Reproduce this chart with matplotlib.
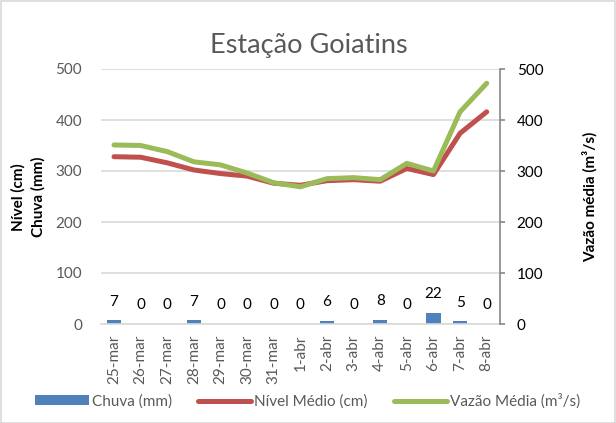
import numpy as np
import matplotlib
matplotlib.use("Agg")
import matplotlib.pyplot as plt
from matplotlib.patches import Rectangle

plt.rcParams['font.family'] = ['Lato', 'DejaVu Sans']

dias = ["25-mar", "26-mar", "27-mar", "28-mar", "29-mar", "30-mar", "31-mar",
        "1-abr", "2-abr", "3-abr", "4-abr", "5-abr", "6-abr", "7-abr", "8-abr"]
chuva = [7, 0, 0, 7, 0, 0, 0, 0, 6, 0, 8, 0, 22, 5, 0]
nivel = [328, 327, 316, 302, 295, 290, 276, 272, 281, 283, 280, 305, 293, 374, 416]
vazao = [351, 350, 338, 318, 312, 296, 277, 269, 285, 287, 283, 315, 300, 416, 472]

BLUE, RED, GREEN = "#4F81BD", "#C0504D", "#9BBB59"
GRAY_TXT = "#595959"
GRID = "#D9D9D9"

fig = plt.figure(figsize=(6.16, 4.23), dpi=100)
ax = fig.add_axes([100.7 / 616, 1 - 324 / 423, (500 - 100.7) / 616, (324 - 69) / 423])
ax2 = ax.twinx()

x = np.arange(len(dias))
bars = ax.bar(x, chuva, width=0.54, color=BLUE, label="Chuva (mm)", zorder=2)
ln1, = ax.plot(x, nivel, color=RED, lw=3.6, solid_capstyle="round",
               solid_joinstyle="round", label="Nível Médio (cm)", zorder=3)
ln2, = ax2.plot(x, vazao, color=GREEN, lw=3.6, solid_capstyle="round",
                solid_joinstyle="round", label="Vazão Média (m³/s)", zorder=3)

for xi, v in zip(x, chuva):
    ax.annotate(str(v), (xi, v), xytext=(0, 13.5), textcoords="offset points",
                ha="center", va="center", fontsize=11, color="black")

for a in (ax, ax2):
    a.set_ylim(0, 500)
    a.set_yticks(range(0, 501, 100))
    a.set_xlim(-0.5, len(dias) - 0.5)
    for s in a.spines.values():
        s.set_visible(False)

ax.yaxis.grid(True, color=GRID, lw=1.2)
ax.set_axisbelow(True)
ax.spines["bottom"].set_visible(True)
ax.spines["bottom"].set_color(GRID)
ax.spines["bottom"].set_linewidth(1.2)
ax.tick_params(axis="y", length=0, pad=13.5, labelsize=11, labelcolor=GRAY_TXT)
ax.set_xticks(x)
ax.set_xticklabels(dias, rotation=90)
ax.tick_params(axis="x", length=0, pad=8, labelsize=11, labelcolor=GRAY_TXT)

ax2.spines["right"].set_visible(True)
ax2.spines["right"].set_color("#868686")
ax2.spines["right"].set_linewidth(1.2)
ax2.tick_params(axis="y", direction="out", length=3.5, width=1.2, color="#868686",
                pad=8.5, labelsize=11, labelcolor="black")

fig.text(18 / 616, 1 - 197 / 423, "Nível (cm)", rotation=90, ha="center", va="center",
         fontsize=11, fontweight="bold")
fig.text(38 / 616, 1 - 197 / 423, "Chuva (mm)", rotation=90, ha="center", va="center",
         fontsize=11, fontweight="bold")
fig.text(590 / 616, 1 - 197 / 423, "Vazão média (m³/s)", rotation=90, ha="center",
         va="center", fontsize=11, fontweight="bold")

fig.text(309 / 616, 1 - 45 / 423, "Estação Goiatins", ha="center", va="center",
         fontsize=19.5, color=GRAY_TXT)

fig.legend([bars, ln1, ln2], [bars.get_label(), ln1.get_label(), ln2.get_label()],
           loc="center", bbox_to_anchor=(0.5, 1 - 401 / 423), ncol=3, frameon=False,
           fontsize=11, handlelength=3.5, handleheight=0.6, handletextpad=0.2,
           columnspacing=1.7, labelcolor=GRAY_TXT)

fig.add_artist(Rectangle((0.5 / 616, 0.5 / 423), 614.5 / 616, 421.5 / 423,
                         transform=fig.transFigure, fill=False, edgecolor="#D9D9D9", lw=1.2))

fig.savefig("out.png", dpi=100)
